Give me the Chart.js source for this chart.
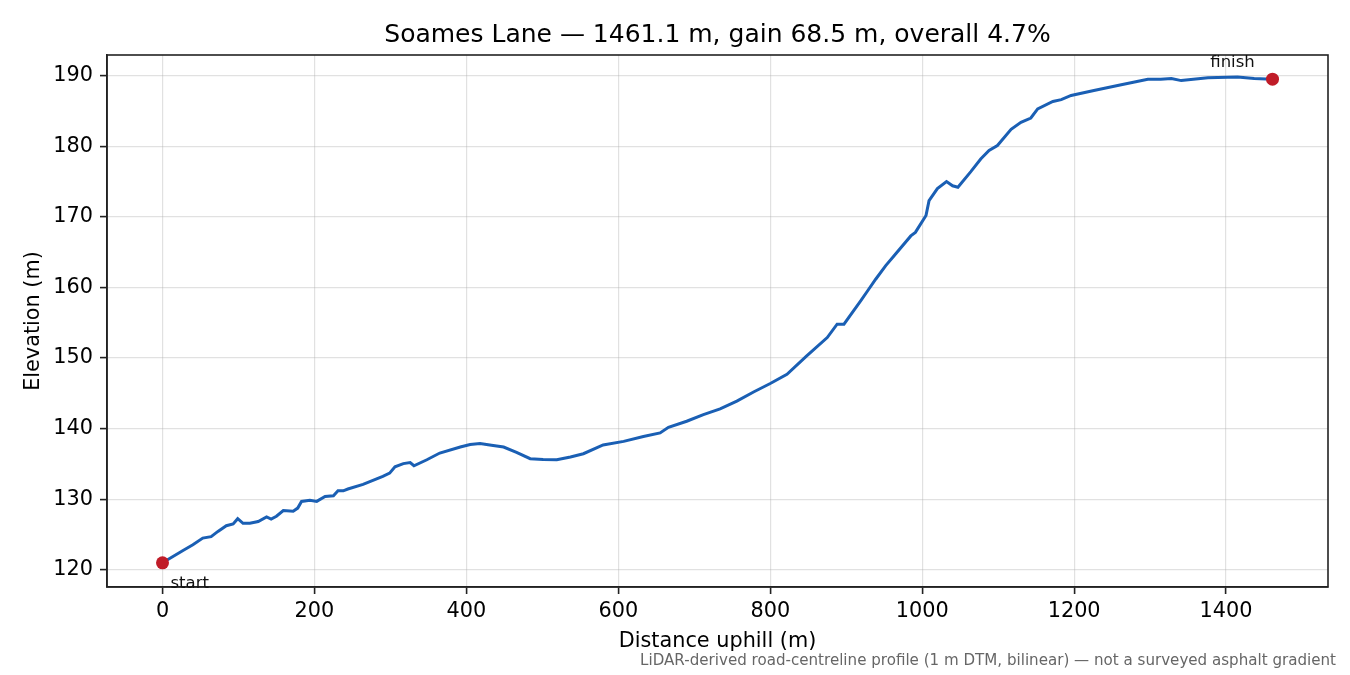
<!DOCTYPE html>
<html>
<head>
<meta charset="utf-8">
<title>Soames Lane profile</title>
<script src="https://cdn.jsdelivr.net/npm/chart.js@4.4.1/dist/chart.umd.min.js"></script>
<style>
  body { margin: 0; background: #fff; }
  #wrap { width: 1350px; height: 675px; position: relative; }
</style>
</head>
<body>
<div id="wrap"><canvas id="profileChart"></canvas></div>
<script>
// distance along the lane (m) and elevation (m)
const distance = [0, 27, 40, 53, 64, 73, 84, 93, 99, 106,
  115, 126, 137, 143, 150, 159, 172, 178, 183, 194,
  203, 214, 225, 231, 238, 244, 264, 290, 299, 306,
  317, 326, 331, 348, 365, 392, 405, 418, 433, 449,
  466, 484, 501, 519, 537, 554, 580, 607, 633, 655,
  666, 690, 712, 734, 756, 778, 800, 822, 848, 875,
  888, 897, 919, 928, 939, 952, 963, 985, 991, 1005,
  1009, 1020, 1032, 1040, 1047, 1064, 1077, 1088, 1099, 1117,
  1130, 1143, 1152, 1172, 1183, 1196, 1226, 1262, 1297, 1314,
  1328, 1341, 1376, 1415, 1437, 1461.1]
const elevation = [121.0, 122.75, 123.55, 124.5, 124.7, 125.45, 126.25, 126.5, 127.25, 126.6,
  126.6, 126.85, 127.5, 127.2, 127.6, 128.4, 128.3, 128.75, 129.7, 129.85,
  129.7, 130.4, 130.5, 131.2, 131.2, 131.45, 132.1, 133.25, 133.7, 134.6,
  135.05, 135.2, 134.75, 135.6, 136.55, 137.4, 137.75, 137.9, 137.65, 137.4,
  136.65, 135.75, 135.65, 135.6, 136.0, 136.45, 137.7, 138.2, 138.9, 139.4,
  140.2, 141.05, 142.0, 142.8, 143.9, 145.2, 146.4, 147.7, 150.3, 152.9,
  154.8, 154.8, 158.1, 159.5, 161.2, 163.1, 164.5, 167.3, 167.8, 170.2,
  172.3, 174.0, 175.0, 174.4, 174.2, 176.4, 178.2, 179.4, 180.1, 182.4,
  183.4, 184.0, 185.3, 186.35, 186.6, 187.2, 187.9, 188.7, 189.5, 189.5,
  189.6, 189.3, 189.7, 189.8, 189.6, 189.5]

const markerDistance = [0, 1461.1]
const markerElevation = [121.0, 189.5]
const markerLabels = ['start', 'finish']

const xTicks = [0, 200, 400, 600, 800, 1000, 1200, 1400]
const yTicks = [120, 130, 140, 150, 160, 170, 180, 190]

const titleText = 'Soames Lane — 1461.1 m, gain 68.5 m, overall 4.7%'
const xTitle = 'Distance uphill (m)'
const yTitle = 'Elevation (m)'
const footnote = 'LiDAR-derived road-centreline profile (1 m DTM, bilinear) — not a surveyed asphalt gradient'

const lineColor = '#1a5fb4'
const dotColor = '#c01c28'
const ink = '#222222'

Chart.defaults.font.family = "'DejaVu Sans', sans-serif"
Chart.defaults.color = '#000'

const profile = distance.map((d, i) => ({x: d, y: elevation[i]}))
const markers = markerDistance.map((d, i) => ({x: d, y: markerElevation[i]}))

// matplotlib-like 5% margins round the data
const xPad = (markerDistance[1] - markerDistance[0]) * 0.05
const yPad = (markerElevation[1] - markerElevation[0]) * 0.05

// box round the plot area (top and right spines too)
const frame = {
    id: 'frame',
    afterDatasetsDraw(chart) {
        const {ctx, chartArea: a} = chart
        ctx.save()
        ctx.strokeStyle = ink
        ctx.lineWidth = 1.6
        ctx.strokeRect(a.left, a.top, a.right - a.left, a.bottom - a.top)
        ctx.restore()
    }
}

// "start" / "finish" labels next to the red dots
const pointLabels = {
    id: 'pointLabels',
    afterDatasetsDraw(chart) {
        const {ctx} = chart
        const pts = chart.getDatasetMeta(1).data
        ctx.save()
        ctx.font = "16.5px 'DejaVu Sans'"
        ctx.fillStyle = '#111'
        ctx.textBaseline = 'alphabetic'
        ctx.textAlign = 'left'
        ctx.fillText(markerLabels[0], pts[0].x + 8, pts[0].y + 25)
        ctx.textAlign = 'center'
        ctx.fillText(markerLabels[1], pts[1].x - 40, pts[1].y - 12)
        ctx.restore()
    }
}

const note = {
    id: 'note',
    afterDraw(chart) {
        const {ctx} = chart
        ctx.save()
        ctx.font = "15.1px 'DejaVu Sans'"
        ctx.fillStyle = '#666'
        ctx.textAlign = 'right'
        ctx.textBaseline = 'alphabetic'
        ctx.fillText(footnote, 1336, 665)
        ctx.restore()
    }
}

const plainTick = v => String(v)

const config = {
    type: 'line',
    data: {
        datasets: [{
            data: profile,
            borderColor: lineColor,
            borderWidth: 3,
            pointRadius: 0,
            tension: 0,
            order: 2
        }, {
            data: markers,
            showLine: false,
            pointRadius: 6.5,
            pointHoverRadius: 6.5,
            pointBackgroundColor: dotColor,
            pointBorderColor: dotColor,
            pointBorderWidth: 0,
            order: 1
        }]
    },
    options: {
        responsive: true,
        maintainAspectRatio: false,
        animation: false,
        layout: {padding: {top: 0, right: 22, bottom: 0, left: 0}},
        plugins: {
            legend: {display: false},
            tooltip: {enabled: false},
            title: {
                display: true,
                text: titleText,
                fullSize: false,
                font: {size: 25, weight: 'normal'},
                color: '#000',
                padding: {top: 20, bottom: 5}
            }
        },
        scales: {
            x: {
                type: 'linear',
                min: markerDistance[0] - xPad,
                max: markerDistance[1] + xPad,
                afterBuildTicks: s => { s.ticks = xTicks.map(v => ({value: v})) },
                afterFit: s => { s.height = 88 },
                ticks: {font: {size: 20.8}, color: '#000', padding: 5, maxRotation: 0, callback: plainTick},
                grid: {color: 'rgba(176,176,176,0.38)', lineWidth: 1.2, tickLength: 7, tickColor: ink, tickWidth: 1.6},
                border: {display: true, color: ink, width: 1.6},
                title: {display: true, text: xTitle, font: {size: 20.8}, color: '#000', padding: {top: 0, bottom: 21}}
            },
            y: {
                type: 'linear',
                min: markerElevation[0] - yPad,
                max: markerElevation[1] + yPad,
                afterBuildTicks: s => { s.ticks = yTicks.map(v => ({value: v})) },
                afterFit: s => { s.width = 107 },
                ticks: {font: {size: 20.8}, color: '#000', padding: 7, callback: plainTick},
                grid: {color: 'rgba(176,176,176,0.38)', lineWidth: 1.2, tickLength: 7, tickColor: ink, tickWidth: 1.6},
                border: {display: true, color: ink, width: 1.6},
                title: {display: true, text: yTitle, font: {size: 20.8}, color: '#000', padding: {top: 21.5, bottom: 0}}
            }
        }
    },
    plugins: [frame, pointLabels, note]
}

const profileChart = new Chart(document.getElementById('profileChart'), config)
</script>
</body>
</html>
